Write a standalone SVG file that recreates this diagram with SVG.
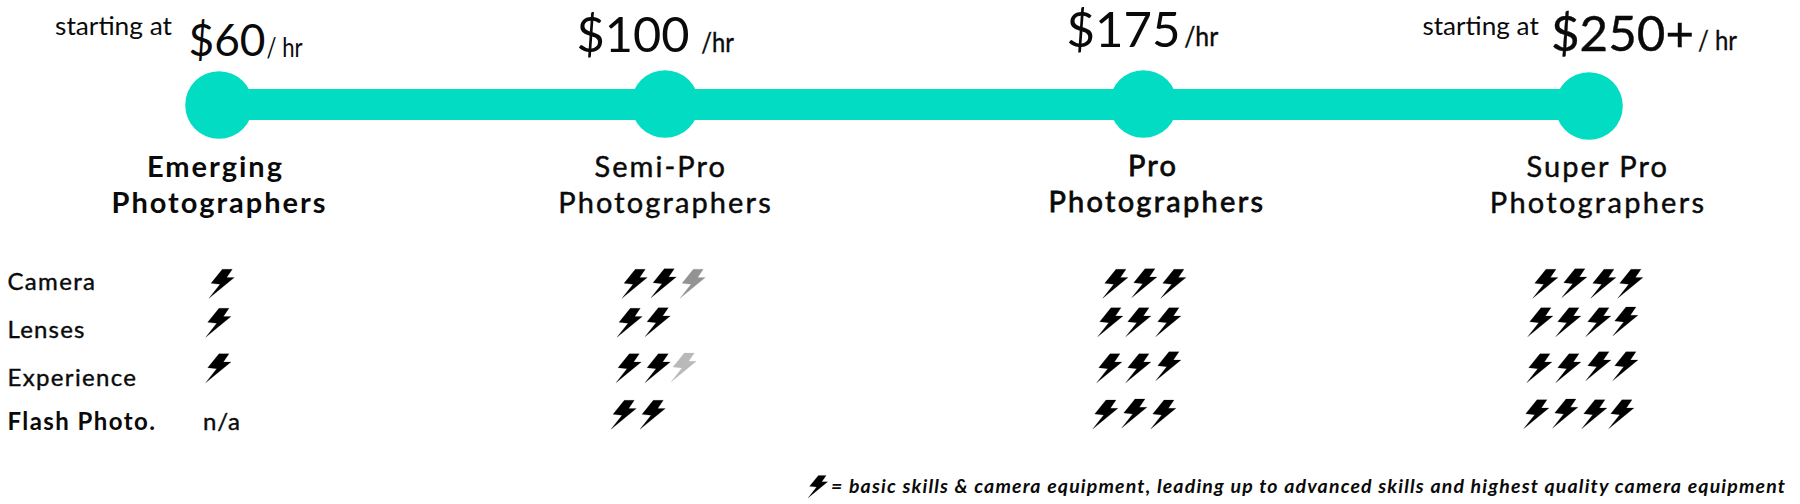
<svg xmlns="http://www.w3.org/2000/svg" width="1800" height="504" viewBox="0 0 1800 504">
<style>
text{font-family:Lato,"Liberation Sans",sans-serif;fill:#0a0a0a}
.start{font-size:24.5px}
.price{font-size:49px}
.small{font-size:44px}
.unit{font-size:27px;stroke:#0a0a0a;stroke-width:.4px}
.unit2{font-size:26px}
.name{font-size:29px;stroke:#0a0a0a;stroke-width:.45px}
.nameb{font-size:29px;font-weight:700}
.namem{font-size:29px;stroke:#0a0a0a;stroke-width:.8px}
.row{font-size:24px;stroke:#0a0a0a;stroke-width:.4px}
.rowb{font-size:24px;font-weight:700}
.note{font-size:19.5px;font-weight:700;font-style:italic}
.dot{fill:#02dcc3}
.g1{opacity:.42}
.g2{opacity:.27}
</style>
<defs>
<path id="b" d="M0 0L11 -14L2 -15L13.3 -29H23.3L17.7 -20.7H25.3Z" fill="#000" stroke="#000" stroke-width=".2"/>
</defs>
<rect width="1800" height="504" fill="#fff"/>
<g id="connectors"><rect class="dot" x="219" y="89" width="1370" height="31"/></g>
<g id="tier-emerging">
<circle class="dot" cx="219" cy="105" r="33.8"/>
<text class="start" x="55" y="35" textLength="117" lengthAdjust="spacingAndGlyphs">starting at</text>
<text class="small" x="188.5" y="55.5" textLength="77" lengthAdjust="spacingAndGlyphs">$60</text>
<text class="unit2" x="266.5" y="56.5" textLength="36" lengthAdjust="spacingAndGlyphs">/ hr</text>
<text class="nameb" x="147" y="176.7" textLength="135">Emerging</text>
<text class="nameb" x="111.5" y="212.7" textLength="214">Photographers</text>
<use href="#b" x="209" y="298.3"/><use href="#b" x="205.7" y="337.3"/><use href="#b" x="205.7" y="382.7"/>
<text class="row" x="203" y="430" textLength="37">n/a</text>
</g>
<g id="tier-semi-pro">
<circle class="dot" cx="665" cy="104" r="33.8"/>
<text class="price" x="576.5" y="52" textLength="113" lengthAdjust="spacingAndGlyphs">$100</text>
<text class="unit" x="701.2" y="51.7" textLength="32.6" lengthAdjust="spacingAndGlyphs">/hr</text>
<text class="name" x="594.5" y="176.7" textLength="130.5">Semi-Pro</text>
<text class="name" x="558.3" y="212.7" textLength="212.4">Photographers</text>
<use href="#b" x="622" y="298.3"/><use href="#b" x="651" y="297.7"/><use href="#b" class="g1" x="680" y="298.3"/>
<use href="#b" x="617" y="337.3"/><use href="#b" x="645" y="336.7"/>
<use href="#b" x="616" y="382.7"/><use href="#b" x="645" y="382.7"/><use href="#b" class="g2" x="671" y="382"/>
<use href="#b" x="611" y="429.3"/><use href="#b" x="640" y="429.3"/>
</g>
<g id="tier-pro">
<circle class="dot" cx="1143.4" cy="104" r="33.8"/>
<text class="price" x="1066.5" y="46.5" textLength="114" lengthAdjust="spacingAndGlyphs">$175</text>
<text class="unit" x="1184.2" y="46" textLength="34" lengthAdjust="spacingAndGlyphs">/hr</text>
<text class="namem" x="1128" y="176" textLength="48">Pro</text>
<text class="namem" x="1048.5" y="212" textLength="214.5">Photographers</text>
<use href="#b" x="1102.7" y="298.3"/><use href="#b" x="1131.7" y="297.7"/><use href="#b" x="1160.7" y="298.3"/>
<use href="#b" x="1097.7" y="336.7"/><use href="#b" x="1125.7" y="336.7"/><use href="#b" x="1155.7" y="336.7"/>
<use href="#b" x="1096.7" y="382.7"/><use href="#b" x="1125.7" y="382.7"/><use href="#b" x="1155.7" y="380.7"/>
<use href="#b" x="1092.7" y="429"/><use href="#b" x="1121.7" y="428"/><use href="#b" x="1150.7" y="429"/>
</g>
<g id="tier-super-pro">
<circle class="dot" cx="1589" cy="106" r="33.8"/>
<text class="start" x="1422.4" y="34.5" textLength="116.4" lengthAdjust="spacingAndGlyphs">starting at</text>
<text class="price" x="1551" y="50.5" textLength="143" lengthAdjust="spacingAndGlyphs" style="stroke:#0a0a0a;stroke-width:.4px">$250+</text>
<text class="unit2" x="1698" y="50" textLength="39" lengthAdjust="spacingAndGlyphs" style="stroke:#0a0a0a;stroke-width:.3px">/ hr</text>
<text class="name" x="1526.5" y="176.7" textLength="140.5">Super Pro</text>
<text class="name" x="1489.8" y="212.7" textLength="214.2">Photographers</text>
<use href="#b" x="1532.7" y="298.3"/><use href="#b" x="1561.7" y="297.7"/><use href="#b" x="1590.7" y="298.3"/><use href="#b" x="1617.7" y="298.3"/>
<use href="#b" x="1527.7" y="336.7"/><use href="#b" x="1555.7" y="336.7"/><use href="#b" x="1585.7" y="336.7"/><use href="#b" x="1612.7" y="336"/>
<use href="#b" x="1526.7" y="382.7"/><use href="#b" x="1555.7" y="382.7"/><use href="#b" x="1585.7" y="380.7"/><use href="#b" x="1612.7" y="380.7"/>
<use href="#b" x="1523.7" y="428.7"/><use href="#b" x="1552.7" y="428"/><use href="#b" x="1581.7" y="428.7"/><use href="#b" x="1608.7" y="428.7"/>
</g>
<g id="row-labels">
<text class="row" x="7.5" y="290" textLength="87.5">Camera</text>
<text class="row" x="7.5" y="337.7" textLength="77">Lenses</text>
<text class="row" x="7.5" y="385.5" textLength="128.5">Experience</text>
<text class="rowb" x="7.5" y="430" textLength="147.5">Flash Photo.</text>
</g>
<g id="legend">
<use href="#b" transform="translate(808 498) scale(.78)"/>
<text class="note" x="831" y="493" textLength="954">= basic skills &amp; camera equipment, leading up to advanced skills and highest quality camera equipment</text>
</g>
</svg>
